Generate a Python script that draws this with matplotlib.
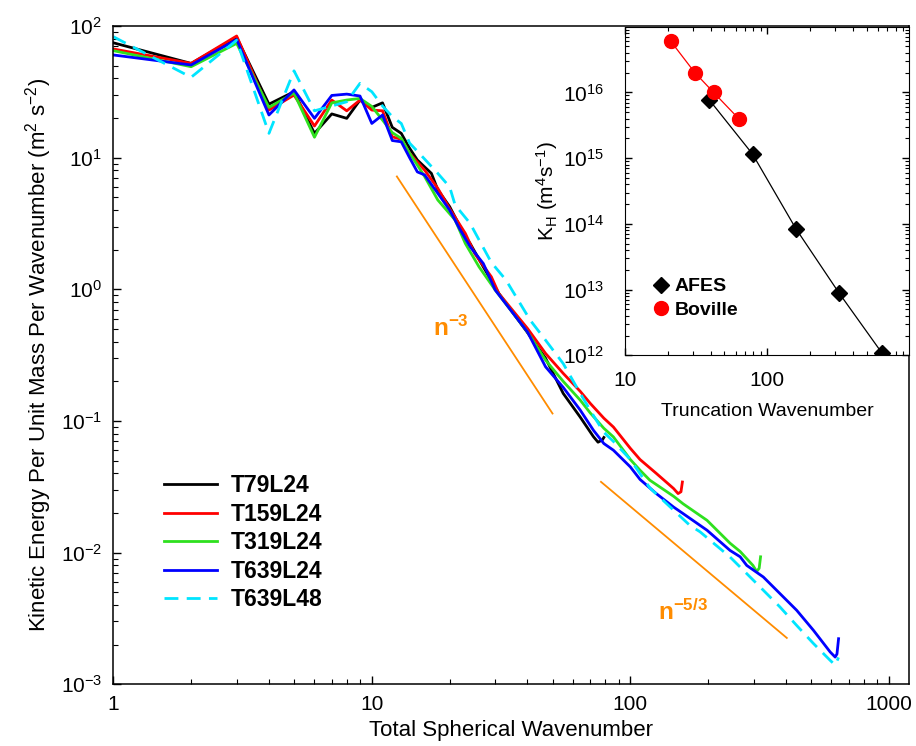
import matplotlib
matplotlib.use("Agg")
import matplotlib.pyplot as plt

plt.rcParams["font.family"] = ["Liberation Sans", "DejaVu Sans"]
plt.rcParams["mathtext.fontset"] = "custom"
plt.rcParams["mathtext.rm"] = "Liberation Sans"
plt.rcParams["mathtext.it"] = "Liberation Sans:italic"
plt.rcParams["mathtext.bf"] = "Liberation Sans:bold"

# kinetic energy spectra (wavenumber, m2 s-2)
t79_n = [1, 2, 3, 4, 5, 6, 7, 8, 9, 10, 11, 12, 13, 14, 15, 17, 18, 20, 23, 24,
         27, 31, 40, 47, 55, 64, 72, 75, 78, 79]
t79_e = [74.6, 52, 82, 25.5, 31.7, 15.3, 21.5, 19.9, 27.4, 24.1, 26.1, 17.0, 15.3,
         11.8, 9.6, 7.6, 5.7, 4.25, 2.51, 2.23, 1.48, 0.93, 0.47, 0.30, 0.162,
         0.107, 0.076, 0.069, 0.072, 0.075]

t159_n = [1, 2, 3, 4, 5, 6, 7, 8, 9, 10, 11, 12, 13, 14, 16, 18, 20, 23, 25, 29,
          31, 40, 47, 55, 64, 70, 79, 86, 100, 109, 126, 147, 153, 157, 159]
t159_e = [67, 52, 84, 23, 29.9, 17.4, 27.4, 22.7, 27.4, 23, 22.7, 14.4, 13.8, 10.8,
          8.05, 5.85, 4.1, 2.66, 1.87, 1.245, 0.93, 0.505, 0.326, 0.23, 0.168,
          0.136, 0.105, 0.09, 0.062, 0.051, 0.040, 0.0307, 0.0281, 0.029, 0.0344]

t319_n = [1, 2, 3, 4, 5, 6, 7, 8, 9, 10, 11, 12, 13, 14, 15, 16, 18, 21, 23, 26,
          30, 40, 47, 55, 64, 70, 79, 86, 100, 109, 119, 147, 160, 198, 243, 266,
          298, 308, 315, 319]
t319_e = [65, 49.1, 73.8, 24.1, 31, 14.3, 26.1, 27.4, 28.2, 24.5, 19.3, 15.5, 14.0,
          10.8, 8.8, 7.2, 4.77, 3.36, 2.23, 1.48, 0.99, 0.475, 0.29, 0.20, 0.144,
          0.115, 0.088, 0.0757, 0.051, 0.0423, 0.0355, 0.0268, 0.0235, 0.0176,
          0.0118, 0.0102, 0.0080, 0.0072, 0.0076, 0.0093]

t639_n = [1, 2, 3, 4, 5, 6, 7, 8, 9, 10, 11, 12, 13, 14, 15, 16, 18, 20, 22, 24,
          27, 30, 40, 47, 55, 64, 72, 79, 86, 100, 109, 126, 147, 160, 198, 243,
          266, 282, 327, 379, 440, 511, 593, 620, 630, 639]
t639_e = [60.3, 50.6, 79, 21.1, 32.7, 19.9, 29.7, 30.4, 29.4, 18.2, 21.1, 13.5,
          13.2, 10.0, 7.8, 7.4, 5.36, 4.0, 2.82, 2.11, 1.57, 0.99, 0.475, 0.258,
          0.18, 0.121, 0.085, 0.0674, 0.060, 0.0448, 0.036, 0.0281, 0.0222, 0.0198,
          0.0148, 0.0104, 0.0093, 0.0080, 0.00653, 0.00489, 0.00365, 0.00257,
          0.00176, 0.00161, 0.0017, 0.00222]

t639l48_n = [1, 2, 3, 4, 5, 6, 7, 8, 9, 10, 11, 12, 13, 14, 15, 18, 20, 21, 24, 26,
             29, 33, 41, 47, 55, 64, 72, 79, 86, 100, 119, 170, 186, 243, 282, 327,
             379, 440, 511, 593, 620, 639]
t639l48_e = [83, 40.8, 78, 15.3, 45.7, 22.7, 24.7, 26.6, 36.7, 31.7, 24.7, 20.5,
             18.2, 12.9, 11.2, 7.6, 6.0, 4.37, 3.17, 2.37, 1.6, 1.18, 0.583, 0.411,
             0.273, 0.162, 0.11, 0.082, 0.070, 0.051, 0.031, 0.0161, 0.0144,
             0.00927, 0.00693, 0.00518, 0.00387, 0.0028, 0.00204, 0.00152, 0.0014,
             0.0016]

# reference slopes (end points)
ref3_n = [12.5, 50]
ref3_e = [7.2, 0.114]
ref53_n = [77, 403]
ref53_e = [0.0345, 0.00225]

# inset: horizontal diffusion coefficient vs truncation
afes_n = [39, 79, 159, 319, 639]
afes_k = [7.8e15, 1.15e15, 8.5e13, 9.0e12, 1.1e12]
boville_n = [21, 31, 42, 63]
boville_k = [6.0e16, 2.0e16, 1.0e16, 4.0e15]

fig = plt.figure(figsize=(9.16, 7.46), dpi=100)
ax = fig.add_axes([0.1237, 0.0827, 0.869, 0.8824])
ax.set_xscale("log")
ax.set_yscale("log")

lw = 2.0
ax.plot(t79_n, t79_e, color="black", lw=lw, label="T79L24")
ax.plot(t159_n, t159_e, color="#ff0000", lw=lw, label="T159L24")
ax.plot(t319_n, t319_e, color="#2ee01e", lw=lw, label="T319L24")
ax.plot(t639_n, t639_e, color="#0000ff", lw=lw, label="T639L24")
ax.plot(t639l48_n, t639l48_e, color="#00e5ff", lw=lw, dashes=(5, 3),
        label="T639L48")

ax.plot(ref3_n, ref3_e, color="#ff8c00", lw=1.3)
ax.plot(ref53_n, ref53_e, color="#ff8c00", lw=1.3)
ax.text(17.3, 0.44, r"$\mathbf{n^{-3}}$", color="#ff8c00", fontsize=17.5,
        va="baseline")
ax.text(128, 0.00306, r"$\mathbf{n^{-5/3}}$", color="#ff8c00", fontsize=17.5,
        va="baseline")

ax.set_xlim(1, 1200)
ax.set_ylim(1e-3, 1e2)
ax.set_xticks([1, 10, 100, 1000])
ax.set_xticklabels(["1", "10", "100", "1000"])
ax.set_yticks([1e-3, 1e-2, 1e-1, 1e0, 1e1, 1e2])
ax.tick_params(which="both", direction="in", labelsize=15)
ax.tick_params(which="major", length=6, width=1, pad=8)
ax.tick_params(which="minor", length=3.5, width=0.8)
ax.set_xlabel("Total Spherical Wavenumber", fontsize=16, labelpad=4)
ax.set_ylabel(r"Kinetic Energy Per Unit Mass Per Wavenumber (m$^{2}$ s$^{-2}$)",
              fontsize=16, labelpad=5)
for s in ax.spines.values():
    s.set_linewidth(1.1)

ax.legend(loc="upper left", bbox_to_anchor=(0.064, 0.319), frameon=False,
          prop={"weight": "bold", "size": 16.5}, handlelength=2.3,
          handletextpad=0.6, labelspacing=0.24, borderpad=0, borderaxespad=0)

# inset
axi = fig.add_axes([0.6823, 0.5237, 0.3104, 0.4405])
axi.set_xscale("log")
axi.set_yscale("log")
axi.plot(afes_n, afes_k, "-", color="black", lw=0.9)
axi.plot(afes_n, afes_k, "D", color="black", ms=8, label="AFES")
axi.plot(boville_n, boville_k, "-", color="#ff0000", lw=0.9)
axi.plot(boville_n, boville_k, "o", color="#ff0000", ms=10, label="Boville")
axi.set_xlim(10, 1000)
axi.set_ylim(1e12, 1e17)
axi.set_xticks([10, 100])
axi.set_xticklabels(["10", "100"])
axi.set_yticks([1e12, 1e13, 1e14, 1e15, 1e16])
axi.tick_params(which="both", direction="in", top=True, right=True, labelsize=15)
axi.tick_params(which="major", length=5, width=1)
axi.tick_params(which="minor", length=3, width=0.8)
axi.tick_params(axis="x", which="major", pad=11)
axi.tick_params(axis="y", which="major", pad=15)
axi.set_xlabel("Truncation Wavenumber", fontsize=14, labelpad=10)
axi.set_ylabel(r"K$_{\rm H}$ (m$^{\rm 4}$s$^{-1}$)", fontsize=15, labelpad=2)
axi.legend(loc="upper left", bbox_to_anchor=(0.1, 0.236), frameon=False,
           prop={"weight": "bold", "size": 14}, handlelength=0.8,
           handletextpad=0.3, labelspacing=0.3, borderpad=0, borderaxespad=0)

fig.savefig("out.png", dpi=100)
